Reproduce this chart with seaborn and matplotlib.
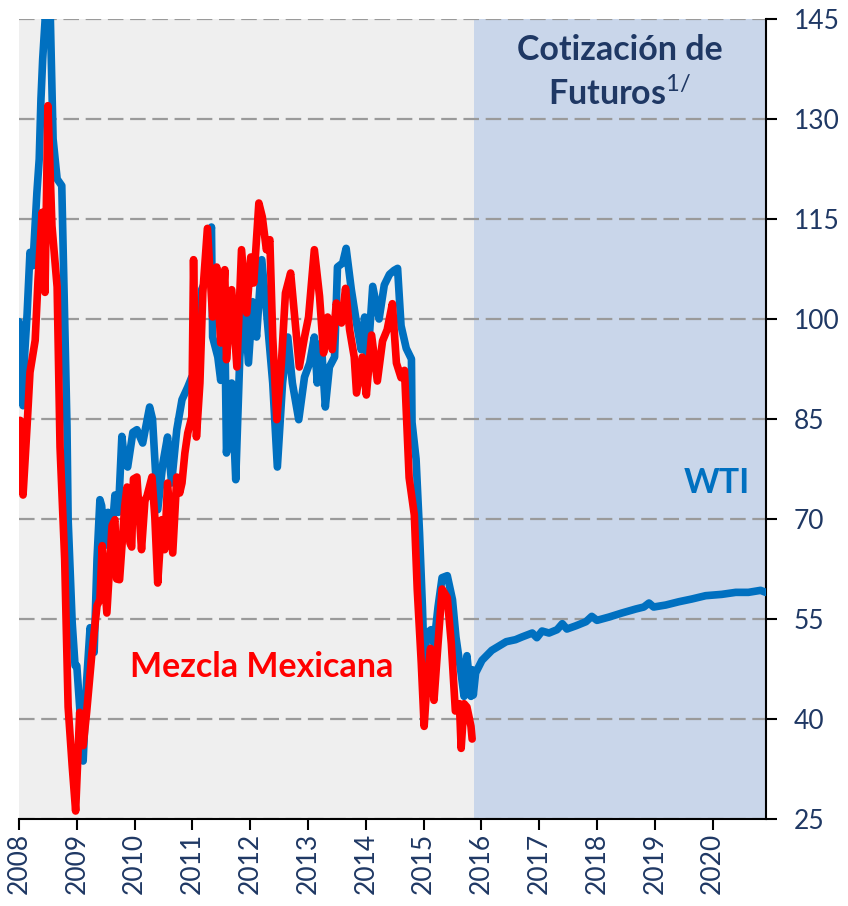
import numpy as np
import pandas as pd
import matplotlib
matplotlib.use("Agg")
import matplotlib.pyplot as plt
import seaborn as sns

# WTI spot (decimal year, USD/bbl)
wti_t = [2008.00, 2008.04, 2008.07, 2008.10, 2008.14, 2008.19, 2008.24, 2008.31, 2008.35, 2008.38,
         2008.41, 2008.46, 2008.54, 2008.59, 2008.66, 2008.74, 2008.79, 2008.83, 2008.85, 2008.92,
         2008.97, 2009.00, 2009.05, 2009.11, 2009.17, 2009.23, 2009.30, 2009.35, 2009.40, 2009.43,
         2009.48, 2009.52, 2009.54, 2009.60, 2009.66, 2009.72, 2009.78, 2009.80, 2009.88, 2009.97,
         2010.04, 2010.14, 2010.26, 2010.31, 2010.40, 2010.49, 2010.57, 2010.64, 2010.73, 2010.82,
         2010.92, 2010.99, 2011.07, 2011.16, 2011.21, 2011.33, 2011.35, 2011.44, 2011.49, 2011.56,
         2011.59, 2011.68, 2011.75, 2011.82, 2011.90, 2011.97, 2012.04, 2012.11, 2012.20, 2012.28,
         2012.39, 2012.47, 2012.56, 2012.65, 2012.73, 2012.84, 2012.94, 2013.03, 2013.11, 2013.16,
         2013.23, 2013.30, 2013.37, 2013.46, 2013.51, 2013.60, 2013.66, 2013.75, 2013.84, 2013.92,
         2013.98, 2014.03, 2014.12, 2014.23, 2014.32, 2014.41, 2014.49, 2014.55, 2014.61, 2014.70,
         2014.79, 2014.80, 2014.87, 2014.93, 2014.98, 2015.01, 2015.06, 2015.13, 2015.18, 2015.25,
         2015.32, 2015.41, 2015.50, 2015.56, 2015.65, 2015.70, 2015.75, 2015.82, 2015.84, 2015.86]
wti_v = [99.6, 92.0, 87.0, 95.0, 100.7, 110.0, 108.0, 119.0, 124.0, 133.0,
         139.0, 146.0, 146.0, 127.0, 121.0, 120.0, 100.0, 84.0, 70.0, 54.5,
         48.0, 48.0, 41.8, 33.7, 45.7, 53.7, 50.0, 64.0, 72.9, 72.0,
         66.0, 70.3, 71.0, 67.0, 73.6, 71.0, 82.4, 80.8, 77.8, 83.0,
         83.4, 81.4, 86.8, 85.0, 71.4, 78.4, 82.3, 75.4, 83.4, 87.9,
         89.8, 91.3, 85.3, 104.4, 105.4, 113.8, 97.3, 94.3, 90.8, 99.4,
         79.9, 90.4, 75.9, 94.3, 102.9, 93.4, 102.6, 97.3, 108.9, 101.4,
         90.4, 77.8, 90.4, 97.3, 90.4, 84.9, 91.3, 93.4, 97.3, 90.4,
         96.4, 86.8, 92.8, 94.3, 107.8, 108.4, 110.6, 104.4, 99.4, 95.4,
         100.3, 93.4, 104.9, 100.0, 105.1, 106.7, 107.3, 107.6, 99.0, 95.6,
         94.0, 84.5, 79.0, 67.9, 56.8, 48.4, 52.9, 53.4, 51.3, 56.8,
         61.2, 61.5, 57.9, 52.3, 46.8, 43.4, 49.5, 43.4, 47.4, 43.6]

# WTI futures curve
fut_t = [2015.90, 2016.01, 2016.18, 2016.43, 2016.59, 2016.70, 2016.88, 2016.96, 2017.05, 2017.17,
         2017.31, 2017.40, 2017.48, 2017.64, 2017.81, 2017.91, 2018.00, 2018.21, 2018.43, 2018.67,
         2018.81, 2018.90, 2018.98, 2019.19, 2019.42, 2019.64, 2019.88, 2020.16, 2020.40, 2020.62,
         2020.83, 2020.92]
fut_v = [46.9, 48.8, 50.3, 51.6, 51.9, 52.3, 52.9, 52.2, 53.2, 52.9,
         53.4, 54.3, 53.5, 54.0, 54.6, 55.4, 54.8, 55.3, 55.9, 56.5,
         56.8, 57.4, 56.8, 57.1, 57.6, 58.0, 58.5, 58.7, 59.0, 59.0,
         59.3, 59.0]

# Mezcla Mexicana
mme_t = [2008.02, 2008.07, 2008.14, 2008.19, 2008.28, 2008.33, 2008.40, 2008.45, 2008.50, 2008.57,
         2008.66, 2008.71, 2008.79, 2008.85, 2008.92, 2008.98, 2009.05, 2009.11, 2009.17, 2009.26,
         2009.35, 2009.40, 2009.44, 2009.52, 2009.61, 2009.66, 2009.69, 2009.74, 2009.83, 2009.87,
         2009.92, 2009.95, 2009.98, 2010.04, 2010.12, 2010.18, 2010.21, 2010.30, 2010.35, 2010.40,
         2010.47, 2010.52, 2010.57, 2010.66, 2010.73, 2010.78, 2010.82, 2010.87, 2010.92, 2010.99,
         2011.02, 2011.07, 2011.13, 2011.18, 2011.26, 2011.35, 2011.42, 2011.49, 2011.56, 2011.59,
         2011.68, 2011.77, 2011.85, 2011.94, 2012.01, 2012.06, 2012.15, 2012.21, 2012.28, 2012.34,
         2012.39, 2012.46, 2012.54, 2012.61, 2012.70, 2012.77, 2012.85, 2012.94, 2013.01, 2013.11,
         2013.20, 2013.27, 2013.34, 2013.42, 2013.49, 2013.58, 2013.65, 2013.72, 2013.80, 2013.84,
         2013.94, 2014.01, 2014.10, 2014.20, 2014.29, 2014.37, 2014.46, 2014.53, 2014.61, 2014.67,
         2014.75, 2014.84, 2014.89, 2014.96, 2015.01, 2015.06, 2015.12, 2015.18, 2015.25, 2015.32,
         2015.41, 2015.48, 2015.55, 2015.62, 2015.65, 2015.70, 2015.75, 2015.82, 2015.84]
mme_v = [84.8, 73.6, 84.0, 92.0, 96.8, 106.0, 116.0, 104.0, 132.0, 114.0,
         104.8, 80.8, 64.0, 41.8, 33.0, 26.2, 41.0, 36.0, 41.0, 49.7,
         57.0, 57.9, 66.0, 55.9, 69.0, 69.9, 61.0, 60.9, 72.0, 74.8,
         66.4, 65.8, 76.0, 76.3, 65.4, 72.9, 73.3, 76.3, 70.3, 60.4,
         69.9, 65.4, 75.4, 64.9, 76.3, 73.9, 75.4, 79.9, 82.9, 85.3,
         108.9, 82.3, 90.4, 103.9, 113.6, 100.3, 107.8, 96.4, 107.4, 93.9,
         104.4, 92.8, 110.4, 100.9, 109.3, 105.4, 117.4, 115.3, 110.4, 111.9,
         97.3, 84.9, 93.4, 103.9, 106.9, 100.3, 92.8, 97.3, 100.3, 110.4,
         103.4, 94.9, 100.3, 95.4, 102.4, 99.4, 104.6, 98.4, 94.3, 88.9,
         94.3, 88.6, 97.6, 90.7, 96.7, 98.4, 102.3, 93.4, 91.2, 92.3,
         76.2, 70.6, 59.5, 48.4, 38.9, 45.7, 50.6, 42.8, 51.3, 59.5,
         58.2, 51.3, 41.2, 42.3, 35.6, 42.3, 41.8, 38.9, 37.0]

years = list(range(2008, 2021))
y_ticks = [25, 40, 55, 70, 85, 100, 115, 130, 145]
fut_start = 2015.88
x_end = 2020.92

navy = "#1F3864"
wti_color = "#0070C0"
mme_color = "#FF0000"

sns.set_theme(style="white")
plt.rcParams["font.family"] = ["Lato", "DejaVu Sans"]
plt.rcParams["mathtext.fontset"] = "custom"
plt.rcParams["mathtext.rm"] = "Lato"

wti = pd.DataFrame({"t": wti_t + fut_t, "v": wti_v + fut_v})
mme = pd.DataFrame({"t": mme_t, "v": mme_v})

fig = plt.figure(figsize=(8.48, 9.06), dpi=100)
ax = fig.add_axes([0.0224, 0.096, 0.8806, 0.883])
ax.set_facecolor("#EFEFEF")
ax.axvspan(fut_start, x_end, color="#C9D6EA", zorder=0.2, lw=0)

line_kw = dict(lw=5.5, estimator=None, sort=False,
               solid_joinstyle="round", solid_capstyle="round")
sns.lineplot(data=wti, x="t", y="v", ax=ax, color=wti_color, zorder=3, **line_kw)
sns.lineplot(data=mme, x="t", y="v", ax=ax, color=mme_color, zorder=4, **line_kw)

ax.set_xlim(2008, x_end)
ax.set_ylim(25, 145)
ax.set_xticks(years)
ax.set_xticklabels([str(y) for y in years], rotation=90)
ax.set_yticks(y_ticks)
ax.yaxis.tick_right()
ax.set_xlabel("")
ax.set_ylabel("")

ax.set_axisbelow(True)
ax.yaxis.grid(True, color="#9A9A9A", lw=1.6, linestyle=(0, (7, 3)))
ax.xaxis.grid(False)

for s in ["left", "top"]:
    ax.spines[s].set_visible(False)
for s in ["right", "bottom"]:
    ax.spines[s].set_color("black")
    ax.spines[s].set_linewidth(1.5)

ax.tick_params(axis="y", which="both", right=True, left=False, direction="out",
               length=8, width=1.5, colors="black", labelcolor=navy, labelsize=19, pad=12)
ax.tick_params(axis="x", which="both", bottom=True, direction="out",
               length=8, width=1.5, colors="black", labelcolor=navy, labelsize=19, pad=2)

ax.text(0.805, 0.961, "Cotización de", transform=ax.transAxes, ha="center", va="center",
        fontsize=24.5, fontweight="bold", color=navy)
ax.text(0.805, 0.907, r"Futuros$^{\mathrm{1/}}$", transform=ax.transAxes, ha="center", va="center",
        fontsize=24.5, fontweight="bold", color=navy)
ax.text(0.934, 0.42, "WTI", transform=ax.transAxes, ha="center", va="center",
        fontsize=24.5, fontweight="bold", color=wti_color)
ax.text(0.325, 0.19, "Mezcla Mexicana", transform=ax.transAxes, ha="center", va="center",
        fontsize=24.5, fontweight="bold", color=mme_color)

fig.savefig("out.png", dpi=100)
